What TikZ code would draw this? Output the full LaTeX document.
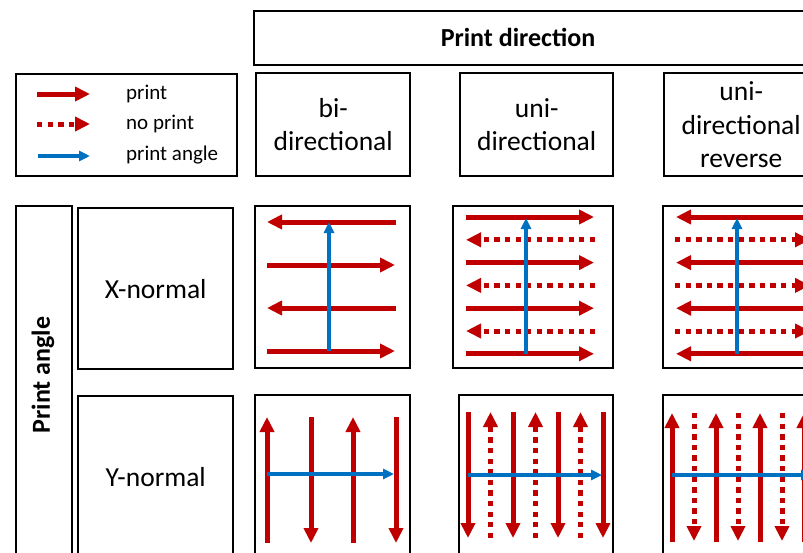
\documentclass[tikz,border=0pt]{standalone}
\usepackage{fontspec}
\setmainfont{Carlito}
\usetikzlibrary{arrows.meta}
\definecolor{pred}{HTML}{C00000}
\definecolor{pblue}{HTML}{0070C0}
\tikzset{
  box/.style={draw=black, line width=2.4pt, inner sep=0pt, align=center, anchor=north west,
    font=\fontsize{27.5}{33.5}\selectfont},
  boldtxt/.style={font=\fontsize{26}{30}\selectfont\bfseries},
  legtxt/.style={anchor=base west, inner sep=0pt, font=\fontsize{21}{24}\selectfont},
  pr/.style={draw=pred, line width=5pt, -{Triangle[length=15pt,width=14pt]}},
  np/.style={pr, dash pattern=on 5.3pt off 5.3pt},
  pa/.style={draw=pblue, line width=3.5pt, -{Triangle[length=11pt,width=10pt]}},
}
\begin{document}
\begin{tikzpicture}[x=1pt,y=-1pt]
\clip (0,0) rectangle (803,552);
\fill[white] (0,0) rectangle (803,552);
% header
\node[box, minimum width=580pt, minimum height=54pt] (hdr) at (253,10) {};
\node[boldtxt] (hdrtxt) at (518,37) {Print direction};
% legend
\node[box, minimum width=221pt, minimum height=102pt] (leg) at (15,73) {};
\coordinate (l1s) at (37,94);  \coordinate (l1e) at (90,94);
\coordinate (l2s) at (37,124); \coordinate (l2e) at (90,124);
\coordinate (l3s) at (38,156); \coordinate (l3e) at (90,156);
\draw[pr] (l1s) -- (l1e);
\draw[np] (l2s) -- (l2e);
\draw[pa] (l3s) -- (l3e);
\node[legtxt] (lt1) at (126,99.5) {print};
\node[legtxt] (lt2) at (126,129.5) {no print};
\node[legtxt] (lt3) at (126,160) {print angle};
% column headers
\node[box, minimum width=154pt, minimum height=103pt] (cbi) at (255,72) {bi-\\directional};
\node[box, minimum width=153pt, minimum height=103pt] (cuni) at (459,72) {uni-\\directional};
\node[box, minimum width=154pt, minimum height=103pt] (crev) at (663,72) {uni-\\directional\\reverse};
% row headers
\node[box, minimum width=56pt, minimum height=360pt] (pang) at (15,205) {};
\node[boldtxt, rotate=90] (pangtxt) at (43,375) {Print angle};
\node[box, minimum width=155pt, minimum height=161pt] (rx) at (77,207) {X-normal};
\node[box, minimum width=155pt, minimum height=161pt] (ry) at (77,395) {Y-normal};
% cells
\node[box, minimum width=155pt, minimum height=162pt] (bx) at (254,205) {};
\node[box, minimum width=160pt, minimum height=162pt] (ux) at (452,205) {};
\node[box, minimum width=160pt, minimum height=162pt] (rvx) at (662,205) {};
\node[box, minimum width=155pt, minimum height=162pt] (by) at (254,394) {};
\node[box, minimum width=154pt, minimum height=162pt] (uy) at (458,394) {};
\node[box, minimum width=160pt, minimum height=162pt] (rvy) at (662,394) {};
% bi-directional, X-normal
\draw[pr] (396,222) -- (267,222);
\draw[pr] (267,265) -- (395,265);
\draw[pr] (396,308) -- (267,308);
\draw[pr] (267,351) -- (395,351);
\draw[pa] (329,351) -- (329,222);
% uni-directional, X-normal
\foreach \i in {0,2,4,6} \draw[pr] (466,{217+22.8*\i}) -- (594,{217+22.8*\i});
\foreach \i in {1,3,5} \draw[np] (595,{217+22.8*\i}) -- (466,{217+22.8*\i});
\draw[pa] (526,354) -- (526,218);
% uni-directional reverse, X-normal
\foreach \i in {0,2,4,6} \draw[pr] (812,{217+22.8*\i}) -- (676,{217+22.8*\i});
\foreach \i in {1,3,5} \draw[np] (675,{217+22.8*\i}) -- (810,{217+22.8*\i});
\draw[pa] (737,354) -- (737,218);
% bi-directional, Y-normal
\draw[pr] (267,543) -- (267,417);
\draw[pr] (311,417) -- (311,543);
\draw[pr] (353,543) -- (353,417);
\draw[pr] (396,417) -- (396,543);
\draw[pa] (267,474) -- (394,474);
% uni-directional, Y-normal
\foreach \i in {0,2,4,6} \draw[pr] ({468+22.5*\i},412) -- ({468+22.5*\i},538);
\foreach \i in {1,3,5} \draw[np] ({468+22.5*\i},538) -- ({468+22.5*\i},412);
\draw[pa] (468,475) -- (602,475);
% uni-directional reverse, Y-normal
\foreach \i in {0,2,4,6} \draw[pr] ({672+22*\i},542) -- ({672+22*\i},413);
\foreach \i in {1,3,5} \draw[np] ({672+22*\i},413) -- ({672+22*\i},541);
\draw[pa] (672,475) -- (812,475);
\end{tikzpicture}
\end{document}
